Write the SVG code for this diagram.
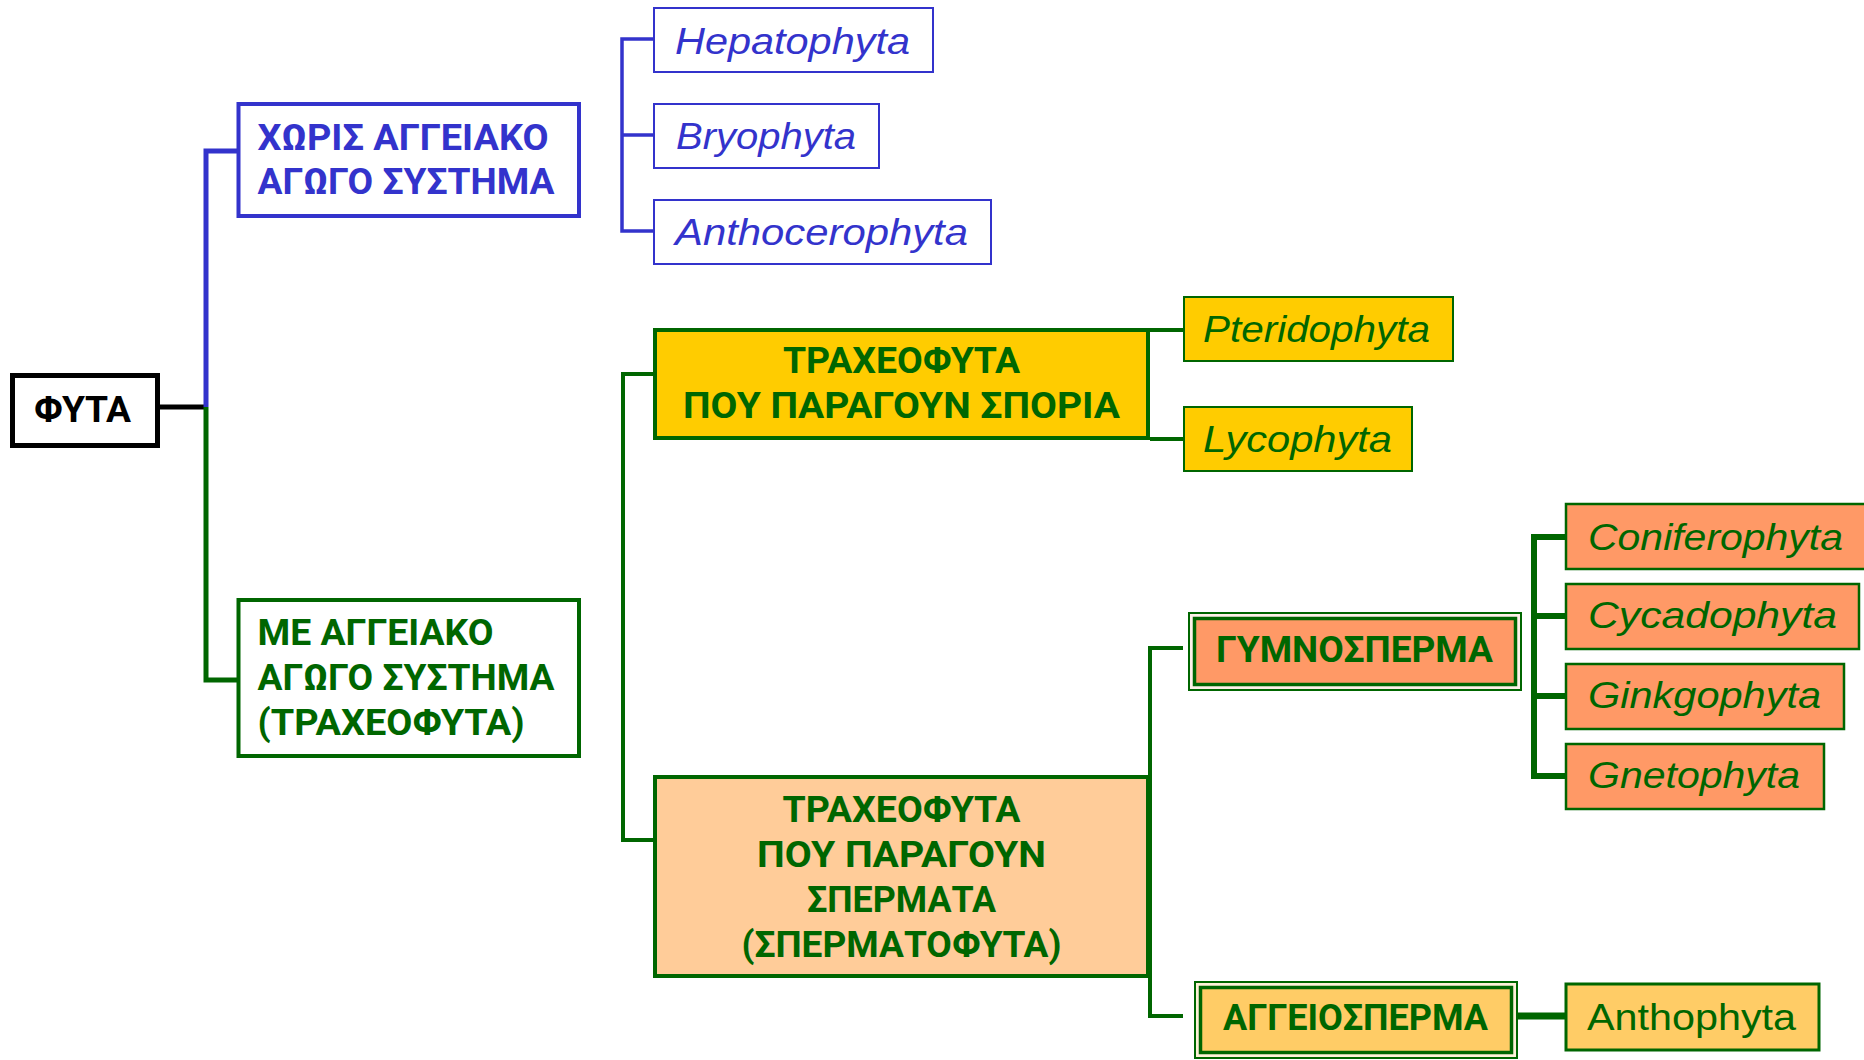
<svg xmlns="http://www.w3.org/2000/svg" width="1864" height="1060" viewBox="0 0 1864 1060">
<style>
.bg{fill:#fff}
.gk{font-family:Roboto,"Liberation Sans","DejaVu Sans",sans-serif;font-weight:bold;font-size:37px}
.it{font-family:"Liberation Sans",Arial,sans-serif;font-style:italic;font-size:37px}
.rg{font-family:"Liberation Sans",Arial,sans-serif;font-size:37px}
.blue{fill:#3333CC}
.green{fill:#006600}
.mid{text-anchor:middle}
.bbox{fill:#fff;stroke:#3333CC}
.ln{fill:none;stroke-linecap:butt;stroke-linejoin:miter}
</style>
<rect class="bg" x="0" y="0" width="1864" height="1060"/>

<g id="connectors">
  <path class="ln" d="M160,407 H206" stroke="#000" stroke-width="5"/>
  <path class="ln" d="M206,407 V151 H238" stroke="#3333CC" stroke-width="5"/>
  <path class="ln" d="M206,407 V680 H238" stroke="#006600" stroke-width="5"/>
  <path class="ln" d="M654,39 H622 V231 H654 M622,135 H654" stroke="#3333CC" stroke-width="3.5"/>
  <path class="ln" d="M654,374 H623 V840 H654" stroke="#006600" stroke-width="4"/>
  <path class="ln" d="M1150,330 H1184 M1150,439 H1184" stroke="#006600" stroke-width="4"/>
  <path class="ln" d="M1183,648 H1150 V1016 H1183" stroke="#006600" stroke-width="4"/>
  <path class="ln" d="M1565,537 H1534 V776 H1565 M1534,616 H1565 M1534,696 H1565" stroke="#006600" stroke-width="6"/>
  <path class="ln" d="M1517,1016 H1566" stroke="#006600" stroke-width="7"/>
</g>

<g id="node-fyta">
  <rect x="12.5" y="375.5" width="145" height="70" fill="#fff" stroke="#000" stroke-width="5"/>
  <text class="gk" x="34" y="422" textLength="97" lengthAdjust="spacingAndGlyphs" fill="#000">ΦΥΤΑ</text>
</g>

<g id="node-choris">
  <rect class="bbox" x="238.5" y="104" width="340.5" height="112" stroke-width="4"/>
  <text class="gk blue" x="257.5" y="150" textLength="291" lengthAdjust="spacingAndGlyphs">ΧΩΡΙΣ ΑΓΓΕΙΑΚΟ</text>
  <text class="gk blue" x="257.5" y="194" textLength="297" lengthAdjust="spacingAndGlyphs">ΑΓΩΓΟ ΣΥΣΤΗΜΑ</text>
</g>

<g id="node-me">
  <rect x="238.5" y="600" width="340.5" height="156" fill="#fff" stroke="#006600" stroke-width="4"/>
  <text class="gk green" x="257.5" y="645" textLength="236" lengthAdjust="spacingAndGlyphs">ΜΕ ΑΓΓΕΙΑΚΟ</text>
  <text class="gk green" x="257.5" y="690" textLength="297" lengthAdjust="spacingAndGlyphs">ΑΓΩΓΟ ΣΥΣΤΗΜΑ</text>
  <text class="gk green" x="257.5" y="735" textLength="267" lengthAdjust="spacingAndGlyphs">(ΤΡΑΧΕΟΦΥΤΑ)</text>
</g>

<g id="node-hepatophyta">
  <rect class="bbox" x="654" y="8" width="279" height="64" stroke-width="2"/>
  <text class="it blue" x="675" y="54" textLength="235" lengthAdjust="spacingAndGlyphs">Hepatophyta</text>
</g>
<g id="node-bryophyta">
  <rect class="bbox" x="654" y="104" width="225" height="64" stroke-width="2"/>
  <text class="it blue" x="676" y="149" textLength="180" lengthAdjust="spacingAndGlyphs">Bryophyta</text>
</g>
<g id="node-anthocerophyta">
  <rect class="bbox" x="654" y="200" width="337" height="64" stroke-width="2"/>
  <text class="it blue" x="675" y="245" textLength="293" lengthAdjust="spacingAndGlyphs">Anthocerophyta</text>
</g>

<g id="node-spores">
  <rect x="655" y="330" width="493" height="108" fill="#FFCC00" stroke="#006600" stroke-width="4"/>
  <text class="gk green mid" x="901.5" y="373" textLength="237" lengthAdjust="spacingAndGlyphs" font-size="35">ΤΡΑΧΕΟΦΥΤΑ</text>
  <text class="gk green mid" x="901.5" y="418" textLength="437" lengthAdjust="spacingAndGlyphs" font-size="35">ΠΟΥ ΠΑΡΑΓΟΥΝ ΣΠΟΡΙΑ</text>
</g>

<g id="node-pteridophyta">
  <rect x="1184" y="297" width="269" height="64" fill="#FFCC00" stroke="#006600" stroke-width="2"/>
  <text class="it green" x="1203" y="342" textLength="227" lengthAdjust="spacingAndGlyphs">Pteridophyta</text>
</g>
<g id="node-lycophyta">
  <rect x="1184" y="407" width="228" height="64" fill="#FFCC00" stroke="#006600" stroke-width="2"/>
  <text class="it green" x="1203" y="452" textLength="189" lengthAdjust="spacingAndGlyphs">Lycophyta</text>
</g>

<g id="node-seeds">
  <rect x="655" y="777" width="493" height="199" fill="#FFCC99" stroke="#006600" stroke-width="4"/>
  <text class="gk green mid" x="901.5" y="822" textLength="238" lengthAdjust="spacingAndGlyphs" font-size="35">ΤΡΑΧΕΟΦΥΤΑ</text>
  <text class="gk green mid" x="901.5" y="867" textLength="289" lengthAdjust="spacingAndGlyphs" font-size="35">ΠΟΥ ΠΑΡΑΓΟΥΝ</text>
  <text class="gk green mid" x="901.5" y="912" textLength="189" lengthAdjust="spacingAndGlyphs" font-size="35">ΣΠΕΡΜΑΤΑ</text>
  <text class="gk green mid" x="901.5" y="957" textLength="320" lengthAdjust="spacingAndGlyphs" font-size="35">(ΣΠΕΡΜΑΤΟΦΥΤΑ)</text>
</g>

<g id="node-gymno">
  <rect x="1189" y="613" width="332" height="77" fill="#FFF1E8" stroke="#006600" stroke-width="2"/>
  <rect x="1194.5" y="618.5" width="321" height="66" fill="#FF9966" stroke="#006600" stroke-width="3.5"/>
  <text class="gk green mid" x="1354.5" y="662" textLength="277" lengthAdjust="spacingAndGlyphs">ΓΥΜΝΟΣΠΕΡΜΑ</text>
</g>

<g id="node-coniferophyta">
  <rect x="1566" y="504" width="310" height="65" fill="#FF9966" stroke="#006600" stroke-width="2.5"/>
  <text class="it green" x="1588" y="550" textLength="255" lengthAdjust="spacingAndGlyphs">Coniferophyta</text>
</g>
<g id="node-cycadophyta">
  <rect x="1566" y="584" width="293" height="65" fill="#FF9966" stroke="#006600" stroke-width="2.5"/>
  <text class="it green" x="1588" y="628" textLength="249" lengthAdjust="spacingAndGlyphs">Cycadophyta</text>
</g>
<g id="node-ginkgophyta">
  <rect x="1566" y="664" width="278" height="65" fill="#FF9966" stroke="#006600" stroke-width="2.5"/>
  <text class="it green" x="1588" y="708" textLength="233" lengthAdjust="spacingAndGlyphs">Ginkgophyta</text>
</g>
<g id="node-gnetophyta">
  <rect x="1566" y="744" width="258" height="65" fill="#FF9966" stroke="#006600" stroke-width="2.5"/>
  <text class="it green" x="1588" y="788" textLength="212" lengthAdjust="spacingAndGlyphs">Gnetophyta</text>
</g>

<g id="node-angio">
  <rect x="1195" y="982" width="322" height="76" fill="#FFF1D8" stroke="#006600" stroke-width="2"/>
  <rect x="1200.5" y="987.5" width="311" height="65" fill="#FFCC66" stroke="#006600" stroke-width="3.5"/>
  <text class="gk green mid" x="1355.5" y="1030" textLength="265" lengthAdjust="spacingAndGlyphs">ΑΓΓΕΙΟΣΠΕΡΜΑ</text>
</g>

<g id="node-anthophyta">
  <rect x="1566" y="984" width="253" height="66" fill="#FFCC66" stroke="#006600" stroke-width="3"/>
  <text class="rg green" x="1587" y="1030" textLength="209" lengthAdjust="spacingAndGlyphs">Anthophyta</text>
</g>
</svg>
